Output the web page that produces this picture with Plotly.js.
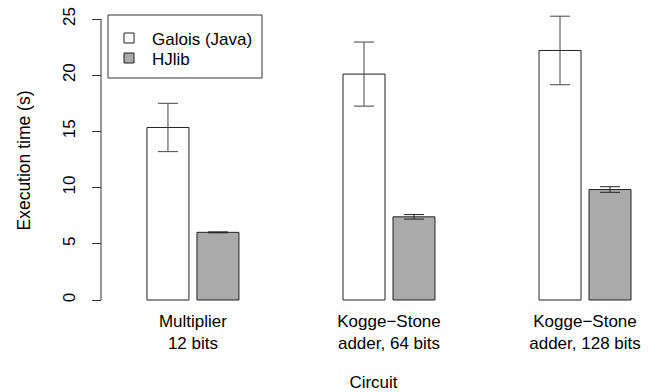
<!DOCTYPE html>
<html>
<head>
<meta charset="utf-8">
<script src="https://cdn.plot.ly/plotly-3.0.1.min.js"></script>
<style>html,body{margin:0;padding:0;background:#fff;}#chart{width:659px;height:392px;}</style>
</head>
<body>
<div id="chart"></div>
<script>
// Data
const categories = ["Multiplier<br>12 bits", "Kogge\u2212Stone<br>adder, 64 bits", "Kogge\u2212Stone<br>adder, 128 bits"];
const seriesNames = ["Galois (Java)", "HJlib"];
const galoisMean = [15.35, 20.1, 22.2];
const galoisErr = [2.15, 2.85, 3.05];
const hjlibMean = [6.02, 7.4, 9.83];
const hjlibErr = [0.04, 0.2, 0.25];
const yTicks = [0, 5, 10, 15, 20, 25];

const FONT = "Liberation Sans, Arial, sans-serif";
const FS = 17;
const xIdx = categories.map((c, i) => i);

const traces = [
  {
    type: "bar", name: seriesNames[0], x: xIdx, y: galoisMean,
    marker: {color: "#ffffff", line: {color: "#222222", width: 1}},
    error_y: {type: "data", array: galoisErr, visible: true, color: "#444444", thickness: 1, width: 10},
    showlegend: false
  },
  {
    type: "bar", name: seriesNames[1], x: xIdx, y: hjlibMean,
    marker: {color: "#aaaaaa", line: {color: "#222222", width: 1}},
    error_y: {type: "data", array: hjlibErr, visible: true, color: "#222222", thickness: 1, width: 10},
    showlegend: false
  }
];

// Manual legend (R style)
const L = 102, T = 12, W = 659 - 102 - 14, H = 392 - 12 - 83;
function px(x) { return (x - L) / W; }
function py(y) { return 1 - (y - T) / H; }
const legendFills = ["#ffffff", "#aaaaaa"];
const legendY = [38, 58];
const shapes = [
  {type: "rect", xref: "paper", yref: "paper", x0: px(108), x1: px(262), y0: py(78), y1: py(15),
   line: {color: "#333333", width: 1}, fillcolor: "#ffffff", layer: "above"},
  {type: "line", xref: "paper", yref: "y", x0: px(101), x1: px(101), y0: 0, y1: 25,
   line: {color: "#333333", width: 1}}
];
const annotations = [];
seriesNames.forEach((n, i) => {
  shapes.push({type: "rect", xref: "paper", yref: "paper",
    x0: px(124), x1: px(134), y0: py(legendY[i] + 5), y1: py(legendY[i] - 5),
    line: {color: "#222222", width: 1}, fillcolor: legendFills[i], layer: "above"});
  annotations.push({xref: "paper", yref: "paper", x: px(150), y: py(legendY[i] + 1),
    xanchor: "left", yanchor: "middle", text: n, showarrow: false,
    font: {family: FONT, size: FS, color: "#000"}});
});

const layout = {
  width: 659, height: 392,
  margin: {l: L, r: 14, t: T, b: 83},
  paper_bgcolor: "#ffffff", plot_bgcolor: "#ffffff",
  font: {family: FONT, size: FS, color: "#000"},
  barmode: "group", bargap: 0.49, bargroupgap: 0.16,
  xaxis: {
    range: [-0.464, 2.306], tickvals: xIdx, ticktext: categories,
    showline: false, showgrid: false, zeroline: false, ticks: "",
    tickfont: {family: FONT, size: FS, color: "#000"},
    title: {text: "Circuit", font: {family: FONT, size: FS, color: "#000"}, standoff: 26},
    automargin: false
  },
  yaxis: {
    range: [-0.8, 25.623], tickvals: yTicks, ticktext: yTicks.map(String),
    showline: false, showgrid: false, zeroline: false,
    ticks: "outside", ticklen: 9, tickcolor: "#333333", tickwidth: 1,
    tickangle: -90, ticklabelstandoff: 10,
    tickfont: {family: FONT, size: FS, color: "#000"},
    title: {text: "Execution time (s)", font: {family: FONT, size: 17.5, color: "#000"}, standoff: 25},
    automargin: false
  },
  shapes: shapes,
  annotations: annotations,
  showlegend: false
};

Plotly.newPlot("chart", traces, layout, {displayModeBar: false, staticPlot: true});
</script>
</body>
</html>
